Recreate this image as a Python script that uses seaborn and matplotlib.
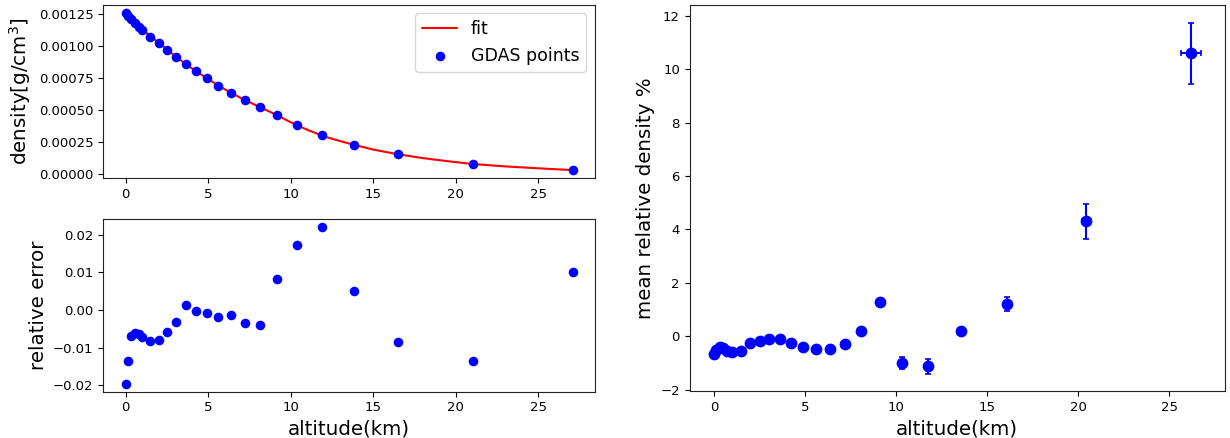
import numpy as np
import pandas as pd
import matplotlib
matplotlib.use("Agg")
import matplotlib.pyplot as plt
import seaborn as sns

# ---------------- data ----------------
# GDAS density points (altitude km, density g/cm^3)
gdas_alt = [0.0, 0.14, 0.34, 0.59, 0.81, 1.01, 1.49, 2.0, 2.5, 3.05, 3.64, 4.24,
            4.91, 5.6, 6.38, 7.21, 8.14, 9.19, 10.4, 11.92, 13.84, 16.53, 21.07, 27.1]
gdas_density = [1.255e-3, 1.236e-3, 1.210e-3, 1.178e-3, 1.150e-3, 1.124e-3, 1.072e-3,
                1.020e-3, 0.968e-3, 0.913e-3, 0.858e-3, 0.805e-3, 0.748e-3, 0.690e-3,
                0.635e-3, 0.578e-3, 0.523e-3, 0.460e-3, 0.379e-3, 0.301e-3, 0.228e-3,
                0.152e-3, 0.0758e-3, 0.0288e-3]
# relative error of the fit at the GDAS points
rel_err = [-0.0196, -0.0136, -0.0070, -0.0061, -0.0063, -0.0072, -0.0082, -0.0081,
           -0.0059, -0.0033, 0.0012, -0.0003, -0.0009, -0.0018, -0.0013, -0.0035,
           -0.0040, 0.0081, 0.0172, 0.0221, 0.0051, -0.0086, -0.0136, 0.0100]
# fit curve
fit_alt = [0, 1, 2, 3, 4, 5, 6, 7, 8, 9, 10, 11, 12, 13, 14, 15, 16.5, 18, 19.5,
           21, 23, 25, 27.1]
fit_density = [1.262e-3, 1.131e-3, 1.026e-3, 0.921e-3, 0.826e-3, 0.741e-3, 0.662e-3,
               0.592e-3, 0.530e-3, 0.470e-3, 0.404e-3, 0.345e-3, 0.294e-3, 0.256e-3,
               0.222e-3, 0.190e-3, 0.153e-3, 0.123e-3, 0.099e-3, 0.077e-3, 0.058e-3,
               0.043e-3, 0.029e-3]
# right panel: mean relative density (%)
mean_alt = [0.0, 0.1, 0.29, 0.48, 0.67, 0.96, 1.48, 1.96, 2.48, 3.02, 3.6, 4.2,
            4.85, 5.56, 6.35, 7.15, 8.08, 9.1, 10.29, 11.73, 13.56, 16.1, 20.43, 26.16]
mean_rel = [-0.66, -0.51, -0.41, -0.45, -0.54, -0.60, -0.54, -0.26, -0.18, -0.11,
            -0.09, -0.26, -0.39, -0.48, -0.48, -0.28, 0.20, 1.29, -0.99, -1.11,
            0.19, 1.21, 4.30, 10.59]
mean_rel_err = [0.05, 0.05, 0.05, 0.05, 0.05, 0.05, 0.05, 0.05, 0.05, 0.05, 0.05,
                0.05, 0.05, 0.05, 0.05, 0.06, 0.08, 0.10, 0.22, 0.28, 0.10, 0.27,
                0.66, 1.15]
mean_alt_err = [0.02, 0.02, 0.02, 0.02, 0.02, 0.03, 0.03, 0.03, 0.03, 0.04, 0.04,
                0.04, 0.05, 0.05, 0.05, 0.06, 0.07, 0.08, 0.09, 0.10, 0.12, 0.15,
                0.25, 0.55]

# ---------------- style ----------------
sns.set_style("ticks")
plt.rcParams["font.family"] = ["DejaVu Sans"]
plt.rcParams["xtick.labelsize"] = 9.5
plt.rcParams["ytick.labelsize"] = 9.5
for k in ("text.color", "axes.labelcolor", "xtick.color", "ytick.color",
          "axes.edgecolor"):
    plt.rcParams[k] = "black"
LABEL = 14.3

fig = plt.figure(figsize=(12.3, 4.38), dpi=100)
ax1 = fig.add_axes([0.0840, 0.5936, 0.3998, 0.3957])
ax2 = fig.add_axes([0.0840, 0.1060, 0.3998, 0.3943])
ax3 = fig.add_axes([0.5607, 0.1070, 0.4352, 0.8815])

# top-left: density and fit
sns.lineplot(x=fit_alt, y=fit_density, color="red", linewidth=1.5, label="fit",
             ax=ax1, zorder=1)
sns.scatterplot(x=gdas_alt, y=gdas_density, color="blue", s=48, linewidth=0,
                label="GDAS points", ax=ax1, zorder=2)
ax1.set_ylabel("density[g/cm$^3$]", fontsize=LABEL)
ax1.legend(loc="upper right", fontsize=12.5, frameon=True)

# bottom-left: relative error
sns.scatterplot(x=gdas_alt, y=rel_err, color="blue", s=48, linewidth=0, ax=ax2)
ax2.set_ylabel("relative error", fontsize=LABEL)
ax2.set_xlabel("altitude(km)", fontsize=LABEL)
ax1.set_xlim(ax2.get_xlim())

# right: mean relative density
sns.scatterplot(x=mean_alt, y=mean_rel, color="blue", s=72, linewidth=0, ax=ax3,
                zorder=3)
ax3.errorbar(mean_alt, mean_rel, xerr=mean_alt_err, yerr=mean_rel_err, fmt="none",
             ecolor="blue", elinewidth=1.5, capsize=2, capthick=1.2, zorder=2)
ax3.set_ylabel("mean relative density %", fontsize=LABEL)
ax3.set_xlabel("altitude(km)", fontsize=LABEL)

for ax in (ax1, ax2, ax3):
    for sp in ax.spines.values():
        sp.set_visible(True)
        sp.set_edgecolor("#222222")

fig.savefig("out.png", dpi=100)
